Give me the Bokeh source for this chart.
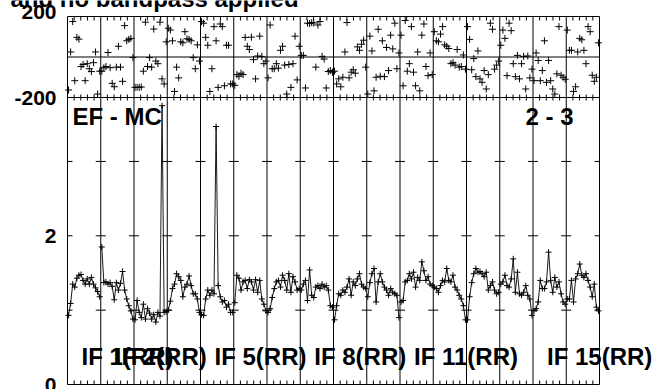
import numpy as np
from bokeh.plotting import figure
from bokeh.models import Range1d, Label
from bokeh.embed import file_html
from bokeh.resources import INLINE

# ---------------- data ----------------
N_IF = 16
N_CH = 16

AMP_IF1 = [0.93, 1.09, 1.35, 1.31, 1.43, 1.47, 1.48, 1.40, 1.35, 1.42, 1.35, 1.44, 1.35, 1.30, 1.25, 1.18]
AMP_IF2 = [1.85, 1.37, 1.38, 1.35, 1.37, 1.32, 1.14, 1.37, 1.27, 1.36, 1.52, 1.27, 1.15, 1.06, 0.99, 0.88]
AMP_IF3 = [0.87, 1.13, 0.97, 0.90, 1.08, 0.88, 1.02, 0.96, 0.88, 0.94, 0.84, 0.97, 0.92, 3.75, 0.97, 0.98]
AMP_IF4 = [1.00, 1.12, 1.29, 1.35, 1.49, 1.45, 1.40, 1.18, 1.31, 1.35, 1.46, 1.33, 1.22, 1.22, 1.15, 0.97]
AMP_IF5 = [0.94, 0.93, 1.15, 1.27, 1.20, 1.27, 1.22, 3.47, 1.33, 1.18, 1.11, 1.13, 1.04, 1.08, 0.97, 0.97]
AMP_IF6 = [1.10, 1.47, 1.43, 1.27, 1.38, 1.40, 1.29, 1.41, 1.38, 1.27, 1.41, 1.24, 1.40, 1.15, 1.08, 0.99]
AMP_IF7 = [0.97, 1.02, 1.17, 1.29, 1.38, 1.40, 1.31, 1.47, 1.40, 1.27, 1.49, 1.24, 1.45, 1.38, 1.27, 1.29]
AMP_IF8 = [1.27, 1.35, 1.40, 1.13, 1.54, 1.20, 1.17, 1.31, 1.33, 1.29, 1.35, 1.31, 1.33, 1.27, 1.06, 1.04]
AMP_IF9 = [0.87, 1.06, 1.22, 1.20, 1.27, 1.24, 1.31, 1.42, 1.20, 1.38, 1.33, 1.42, 1.49, 1.35, 1.31, 1.29]
AMP_IF10 = [1.18, 1.37, 1.49, 1.56, 1.11, 1.38, 1.49, 1.38, 1.31, 1.27, 1.20, 1.29, 1.24, 1.22, 1.20, 0.90]
AMP_IF11 = [1.11, 1.13, 1.38, 1.40, 1.49, 1.42, 1.51, 1.31, 1.44, 1.40, 1.65, 1.53, 1.40, 1.45, 1.35, 1.33]
AMP_IF12 = [1.31, 1.29, 1.24, 1.33, 1.40, 1.38, 1.56, 1.40, 1.38, 1.47, 1.31, 1.27, 1.20, 1.15, 1.06, 0.87]
AMP_IF13 = [0.87, 1.18, 1.37, 1.49, 1.56, 1.51, 1.52, 1.49, 1.45, 1.51, 1.27, 1.33, 1.38, 1.27, 1.22, 1.24]
AMP_IF14 = [1.35, 1.38, 1.47, 1.33, 1.31, 1.42, 1.69, 1.24, 1.51, 1.22, 1.20, 1.24, 1.33, 1.20, 1.15, 0.93]
AMP_IF15 = [0.99, 1.02, 1.11, 1.40, 1.29, 1.29, 1.38, 1.78, 1.40, 1.24, 1.44, 1.31, 1.38, 1.22, 1.11, 1.08]
AMP_IF16 = [1.15, 1.15, 1.40, 1.11, 1.42, 1.49, 1.62, 1.47, 1.44, 1.49, 1.40, 1.31, 1.18, 1.35, 1.04, 0.99]

PH_IF1 = [-163, 25, 175, -117, 97, 88, -47, -37, -117, -33, -58, -72, -28, 25, -183, -70]
PH_IF2 = [-70, -53, -47, 22, -53, -130, -147, -50, 53, -50, -120, 155, 80, 87, 92, -3]
PH_IF3 = [-150, -150, -150, -148, -70, 172, -47, -3, -50, 138, -20, -33, 172, -108, -133, 75]
PH_IF4 = [142, 133, 80, -170, -50, -103, 75, 70, 125, 90, 87, 80, -3, -58, 60, -20]
PH_IF5 = [175, 167, 97, 58, -170, -58, 150, 80, -150, 163, 150, -142, 58, 58, -133, -133]
PH_IF6 = [-140, -87, -95, -80, -87, 97, 53, 37, 98, -13, -108, 5, 103, 3, -33, -20]
PH_IF7 = [-103, 158, -58, -58, -33, -55, 33, 53, -40, -183, -37, -150, -33, 103, -113, 53]
PH_IF8 = [8, 8, -153, 167, 165, 170, 168, -50, 158, 175, 3, -10, -153, -72, -67, -75]
PH_IF9 = [-70, -133, -108, -147, -100, 25, 170, -103, -75, -63, -80, 50, 33, 63, 83, -50]
PH_IF10 = [-183, 103, 30, -167, -100, 137, -95, 80, -97, 47, -67, 108, 40, 167, -58, 20]
PH_IF11 = [108, -142, 180, -70, -33, 150, -75, -142, 25, -167, 108, 163, -47, -92, 20, -87]
PH_IF12 = [125, 80, 75, 113, 150, 60, 53, 42, -33, -28, -40, 37, -50, -47, 10, -60]
PH_IF13 = [150, 87, -63, -8, -97, 30, -108, -125, -67, -158, -87, 167, 137, -60, -40, -20]
PH_IF14 = [58, 133, 92, -92, 167, 130, -33, -97, 8, -108, -33, 3, -158, 5, -103, -60]
PH_IF15 = [-117, 20, -17, -117, -67, 80, -125, -17, -117, -158, -183, -83, 150, -90, -100, -110]
PH_IF16 = [133, 33, 33, -170, -147, 25, 92, 85, 33, -33, 150, 125, -90, -120, -100, 70]

AMP = [AMP_IF1, AMP_IF2, AMP_IF3, AMP_IF4, AMP_IF5, AMP_IF6, AMP_IF7, AMP_IF8,
       AMP_IF9, AMP_IF10, AMP_IF11, AMP_IF12, AMP_IF13, AMP_IF14, AMP_IF15, AMP_IF16]
PHASE = [PH_IF1, PH_IF2, PH_IF3, PH_IF4, PH_IF5, PH_IF6, PH_IF7, PH_IF8,
         PH_IF9, PH_IF10, PH_IF11, PH_IF12, PH_IF13, PH_IF14, PH_IF15, PH_IF16]

IF_LABEL_INDEX = [0, 1, 4, 7, 10, 14]
IF_LABELS = ["IF 1(RR)", "IF 2(RR)", "IF 5(RR)", "IF 8(RR)", "IF 11(RR)", "IF 15(RR)"]
AMP_TICK_LABELS = [0, 2]
AMP_MINOR_TICKS = [1, 2, 3]
PHASE_LIMITS = [-200, 200]
AMP_TOP = 3.86
BASELINE_TEXT = "EF - MC"
STOKES_TEXT = "2 - 3"
TITLE_TEXT = "and no bandpass applied"

# ---------------- layout (pixels) ----------------
W, H = 654, 389
FRAME_L, FRAME_R = 67, 599
FRAME_T, MID, FRAME_B = 16, 97, 384
FONT = "Liberation Sans"

NX = N_IF * N_CH
kx = (FRAME_R - FRAME_L) / NX
ky_a = (FRAME_B - MID) / AMP_TOP
ky_p = (MID - FRAME_T) / (PHASE_LIMITS[1] - PHASE_LIMITS[0])
amp_frame_top = AMP_TOP + (MID - FRAME_T) / ky_a

p = figure(width=W, height=H,
           x_range=Range1d(-FRAME_L / kx, NX + (W - FRAME_R) / kx),
           y_range=Range1d(-(H - FRAME_B) / ky_a, AMP_TOP + MID / ky_a),
           output_backend="svg", toolbar_location=None,
           x_axis_location=None, y_axis_location=None,
           min_border=0, min_border_left=0, min_border_right=0,
           min_border_top=0, min_border_bottom=0)
p.extra_y_ranges = {"phase": Range1d(PHASE_LIMITS[0] - (H - MID) / ky_p,
                                     PHASE_LIMITS[1] + FRAME_T / ky_p)}
p.xgrid.visible = False
p.ygrid.visible = False
p.outline_line_color = None
p.background_fill_color = "white"
p.border_fill_color = "white"

# frame and panel separators
p.quad(left=[0], right=[NX], bottom=[0], top=[amp_frame_top], fill_color=None,
       line_color="black", line_width=1)
bx = [k * N_CH for k in range(N_IF + 1)]
p.segment(x0=bx[1:-1], y0=[0] * (N_IF - 1), x1=bx[1:-1], y1=[amp_frame_top] * (N_IF - 1),
          line_color="black", line_width=1)
p.segment(x0=[0], y0=[AMP_TOP], x1=[NX], y1=[AMP_TOP], line_color="black", line_width=1)
p.segment(x0=[0], y0=[0], x1=[NX], y1=[0], y_range_name="phase", line_color="black", line_width=1)

# tick marks of every panel
hy = AMP_MINOR_TICKS
p.ray(x=[x for x in bx[:-1] for _ in hy], y=[y for _ in bx[:-1] for y in hy],
      length=5, length_units="screen", angle=0, line_color="black", line_width=1)
p.ray(x=[x for x in bx[1:] for _ in hy], y=[y for _ in bx[1:] for y in hy],
      length=5, length_units="screen", angle=np.pi, line_color="black", line_width=1)
tx = [k * N_CH + N_CH * j / 5 for k in range(N_IF) for j in range(1, 5)]
n = len(tx)
p.ray(x=tx, y=[0] * n, length=4, length_units="screen", angle=np.pi / 2,
      line_color="black", line_width=1)
p.ray(x=tx, y=[AMP_TOP] * n, length=3, length_units="screen", angle=np.pi / 2,
      line_color="black", line_width=1)
p.ray(x=tx, y=[AMP_TOP] * n, length=3, length_units="screen", angle=-np.pi / 2,
      line_color="black", line_width=1)
p.ray(x=tx, y=[PHASE_LIMITS[1]] * n, y_range_name="phase", length=4, length_units="screen",
      angle=-np.pi / 2, line_color="black", line_width=1)

# data
xs = [[k * N_CH + c + 0.5 for c in range(N_CH)] for k in range(N_IF)]
p.multi_line(xs, AMP, line_color="black", line_width=0.9)
xf = [x for row in xs for x in row]
p.scatter(xf, [a for row in AMP for a in row], marker="cross", size=6, line_color="black", line_width=1)
p.scatter(xf, [v for row in PHASE for v in row], y_range_name="phase", marker="cross", size=7,
          line_color="black", line_width=1)

# texts (all centred vertically with "middle")
def lab(x, y, text, xo, yo, align="left", rng="default", size="24px"):
    p.add_layout(Label(x=x, y=y, text=text, x_offset=xo, y_offset=yo, y_range_name=rng,
                       text_font=FONT, text_font_style="bold", text_font_size=size,
                       text_color="black", text_align=align, text_baseline="middle"))

# y tick labels
for v in AMP_TICK_LABELS:
    lab(0, v, str(v), -11, 0, align="right", size="21px")
lab(0, PHASE_LIMITS[0], str(PHASE_LIMITS[0]), -11, 0, align="right", rng="phase", size="21px")
lab(0, PHASE_LIMITS[1], str(PHASE_LIMITS[1]), -11, 5, align="right", rng="phase", size="21px")

lab(0, AMP_TOP, BASELINE_TEXT, 5, -19)
lab(NX, AMP_TOP, STOKES_TEXT, -26, -19, align="right")
for k, t in zip(IF_LABEL_INDEX, IF_LABELS):
    lab(k * N_CH, 0, t, 14, 28)
lab(0, PHASE_LIMITS[1], TITLE_TEXT, -57, 18, rng="phase")

open("out.html", "w").write(file_html(p, INLINE))
